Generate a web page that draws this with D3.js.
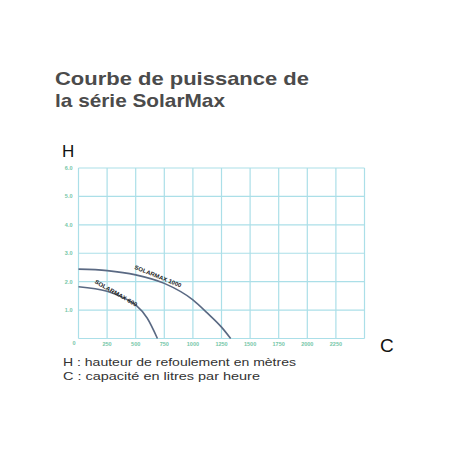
<!DOCTYPE html>
<html>
<head>
<meta charset="utf-8">
<script src="https://cdn.jsdelivr.net/npm/d3@7"></script>
<style>
  body { margin: 0; background: #fff; }
  svg { display: block; }
</style>
</head>
<body>
<svg id="drawing_region"></svg>
<script>
// data
const flowTicks = [250, 500, 750, 1000, 1250, 1500, 1750, 2000, 2250];
const headTicks = [1, 2, 3, 4, 5, 6];
const flow1000 = [0, 250, 500, 750, 1000, 1125, 1250, 1330];
const head1000 = [2.44, 2.39, 2.24, 1.94, 1.36, 0.90, 0.40, 0];
const flow600 = [0, 250, 400, 500, 600, 690];
const head600 = [1.82, 1.66, 1.42, 1.18, 0.72, 0];
const seriesNames = ["SOLARMAX 1000", "SOLARMAX 600"];

const width = 458, height = 458;
const svg = d3.select('#drawing_region')
    .attr('width', width)
    .attr('height', height);

const x = d3.scaleLinear().domain([0, 2500]).range([78.5, 364.5]);
const y = d3.scaleLinear().domain([0, 6]).range([338.5, 168]);

// title
const title = svg.append('g')
    .attr('fill', '#4b4b4b')
    .style('font-family', 'Liberation Sans, Arial, sans-serif')
    .style('font-weight', 'bold')
    .style('font-size', '19px');
title.append('text').attr('x', 55).attr('y', 85)
    .attr('textLength', 254).attr('lengthAdjust', 'spacingAndGlyphs')
    .text('Courbe de puissance de');
title.append('text').attr('x', 55).attr('y', 106.5)
    .attr('textLength', 170).attr('lengthAdjust', 'spacingAndGlyphs')
    .text('la série SolarMax');

// grid
const grid = svg.append('g')
    .attr('stroke', '#abdfe8')
    .attr('stroke-width', 1.2);
grid.selectAll('line.v')
    .data(d3.range(0, 2501, 250))
    .enter()
    .append('line')
    .attr('x1', d => x(d)).attr('x2', d => x(d))
    .attr('y1', y(0)).attr('y2', y(6));
grid.selectAll('line.h')
    .data(d3.range(0, 7, 1))
    .enter()
    .append('line')
    .attr('x1', x(0)).attr('x2', x(2500))
    .attr('y1', d => y(d)).attr('y2', d => y(d));

// tick labels
const ticks = svg.append('g')
    .attr('fill', '#74c6a7')
    .style('font-family', 'Liberation Sans, Arial, sans-serif')
    .style('font-weight', 'bold')
    .style('font-size', '5.5px');
ticks.selectAll('text.x')
    .data(flowTicks)
    .enter()
    .append('text')
    .attr('x', d => x(d))
    .attr('y', y(0) + 7.5)
    .attr('text-anchor', 'middle')
    .text(d => d);
ticks.selectAll('text.y')
    .data(headTicks)
    .enter()
    .append('text')
    .attr('x', x(0) - 6)
    .attr('y', d => y(d) + 2)
    .attr('text-anchor', 'end')
    .text(d => d.toFixed(1));
ticks.append('text')
    .attr('x', x(0) - 4.5)
    .attr('y', y(0) + 6.5)
    .attr('text-anchor', 'middle')
    .text('0');

// curves
const line = d3.line()
    .x(d => x(d[0]))
    .y(d => y(d[1]))
    .curve(d3.curveMonotoneX);
const curves = [d3.zip(flow1000, head1000), d3.zip(flow600, head600)];
svg.selectAll('path.curve')
    .data(curves)
    .enter()
    .append('path')
    .attr('d', line)
    .attr('fill', 'none')
    .attr('stroke', '#5a6983')
    .attr('stroke-width', 1.6);

// curve labels, sitting just above each curve
const labelPos = [[695, 2.19, 22, 50], [328, 1.60, 30, 48]];
svg.selectAll('text.curve')
    .data(labelPos)
    .enter()
    .append('text')
    .attr('transform', d => `translate(${x(d[0])},${y(d[1])}) rotate(${d[2]})`)
    .attr('text-anchor', 'middle')
    .attr('dy', '0.35em')
    .attr('textLength', d => d[3])
    .attr('lengthAdjust', 'spacingAndGlyphs')
    .attr('fill', '#222')
    .style('font-family', 'Liberation Sans, Arial, sans-serif')
    .style('font-weight', 'bold')
    .style('font-size', '5.8px')
    .text((d, i) => seriesNames[i]);

// axis letters
svg.append('text')
    .attr('x', 62).attr('y', 157)
    .attr('fill', '#111')
    .style('font-family', 'Liberation Sans, Arial, sans-serif')
    .style('font-size', '17px')
    .text('H');
svg.append('text')
    .attr('x', 380).attr('y', 352)
    .attr('fill', '#111')
    .style('font-family', 'Liberation Sans, Arial, sans-serif')
    .style('font-size', '19px')
    .text('C');

// notes
const notes = svg.append('g')
    .attr('fill', '#333')
    .style('font-family', 'Liberation Sans, Arial, sans-serif')
    .style('font-size', '11px');
notes.append('text').attr('x', 63).attr('y', 366)
    .attr('textLength', 233).attr('lengthAdjust', 'spacingAndGlyphs')
    .text('H : hauteur de refoulement en mètres');
notes.append('text').attr('x', 63).attr('y', 380)
    .attr('textLength', 197).attr('lengthAdjust', 'spacingAndGlyphs')
    .text('C : capacité en litres par heure');
</script>
</body>
</html>
